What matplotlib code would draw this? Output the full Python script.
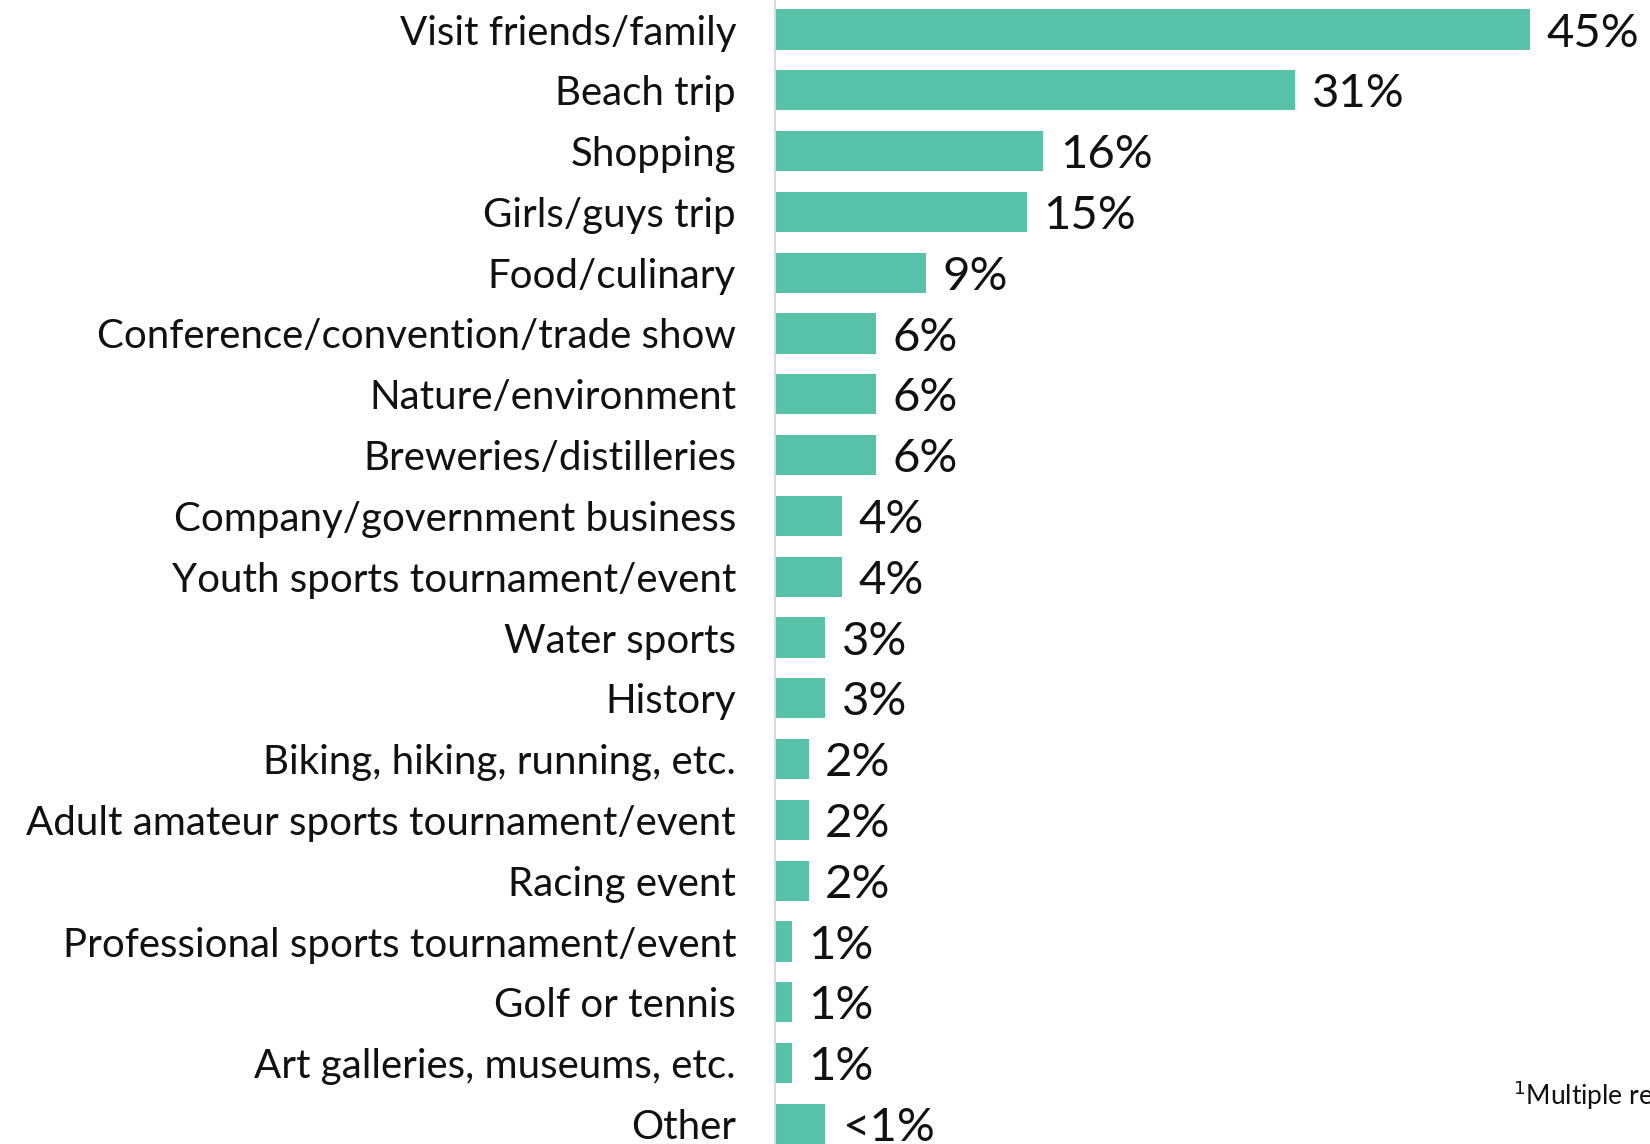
import matplotlib
matplotlib.use("Agg")
import matplotlib.pyplot as plt

categories = [
    "Visit friends/family",
    "Beach trip",
    "Shopping",
    "Girls/guys trip",
    "Food/culinary",
    "Conference/convention/trade show",
    "Nature/environment",
    "Breweries/distilleries",
    "Company/government business",
    "Youth sports tournament/event",
    "Water sports",
    "History",
    "Biking, hiking, running, etc.",
    "Adult amateur sports tournament/event",
    "Racing event",
    "Professional sports tournament/event",
    "Golf or tennis",
    "Art galleries, museums, etc.",
    "Other",
]
values = [45, 31, 16, 15, 9, 6, 6, 6, 4, 4, 3, 3, 2, 2, 2, 1, 1, 1, 3]
value_labels = ["45%", "31%", "16%", "15%", "9%", "6%", "6%", "6%", "4%", "4%",
                "3%", "3%", "2%", "2%", "2%", "1%", "1%", "1%", "<1%"]
footnote = "$^1$Multiple responses allowed"

BAR_COLOR = "#57C2A8"
FONT = ["Lato", "DejaVu Sans"]

W, H, DPI = 1650, 1144, 100
fig = plt.figure(figsize=(W / DPI, H / DPI), dpi=DPI)

ax_left = 775 / W
ax = fig.add_axes([ax_left, 0, 1 - ax_left, 1])

pos = list(range(len(categories)))
ax.barh(pos, values, height=0.66, color=BAR_COLOR, zorder=2)

px_per_unit = 16.78
ax.set_xlim(0, (W - 775) / px_per_unit)
row = 60.8
ax.set_ylim((H - 29.5) / row, -29.5 / row)

for y, v, lab in zip(pos, values, value_labels):
    ax.annotate(lab, xy=(v, y), xytext=(12, -3), textcoords="offset points",
                ha="left", va="center", fontsize=34, family=FONT, color="#111111")

ax.set_yticks(pos)
ax.set_yticklabels(categories, fontsize=29, family=FONT, color="#111111")
ax.tick_params(axis="y", length=0, pad=28)
ax.set_xticks([])
for s in ["top", "right", "bottom"]:
    ax.spines[s].set_visible(False)
ax.spines["left"].set_color("#d9d9d9")
ax.spines["left"].set_linewidth(1.5)

fig.text(1513 / W, 1 - 1095 / H, footnote, fontsize=19, family=FONT,
         color="#111111", ha="left", va="center")

fig.savefig("out.png", dpi=DPI)
